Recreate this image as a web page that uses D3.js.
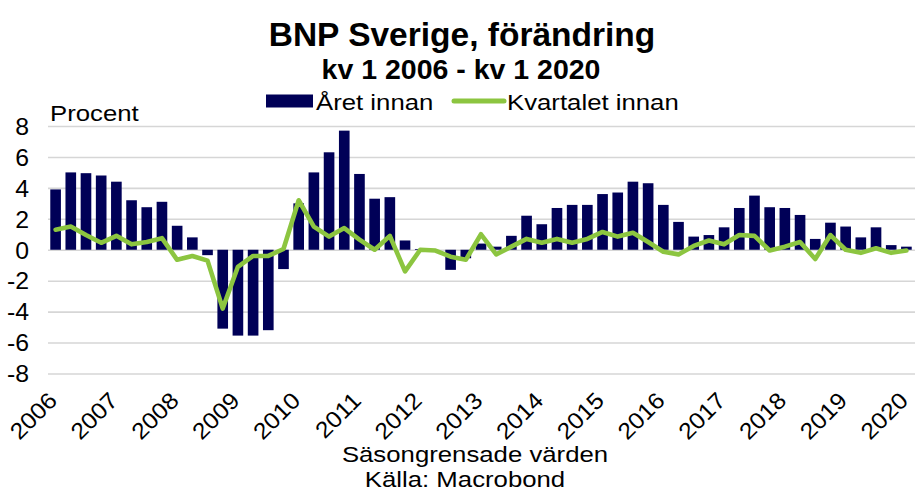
<!DOCTYPE html>
<html>
<head>
<meta charset="utf-8">
<script src="https://cdn.jsdelivr.net/npm/d3@7"></script>
<style>
  html, body { margin: 0; padding: 0; background: #ffffff; }
  svg { display: block; font-family: "Liberation Sans", Arial, Helvetica, sans-serif; }
</style>
</head>
<body>
<svg id="chart" width="915" height="493"></svg>
<script>
// ---- Data ----
const quarters = [
  "2006 Q1","2006 Q2","2006 Q3","2006 Q4",
  "2007 Q1","2007 Q2","2007 Q3","2007 Q4",
  "2008 Q1","2008 Q2","2008 Q3","2008 Q4",
  "2009 Q1","2009 Q2","2009 Q3","2009 Q4",
  "2010 Q1","2010 Q2","2010 Q3","2010 Q4",
  "2011 Q1","2011 Q2","2011 Q3","2011 Q4",
  "2012 Q1","2012 Q2","2012 Q3","2012 Q4",
  "2013 Q1","2013 Q2","2013 Q3","2013 Q4",
  "2014 Q1","2014 Q2","2014 Q3","2014 Q4",
  "2015 Q1","2015 Q2","2015 Q3","2015 Q4",
  "2016 Q1","2016 Q2","2016 Q3","2016 Q4",
  "2017 Q1","2017 Q2","2017 Q3","2017 Q4",
  "2018 Q1","2018 Q2","2018 Q3","2018 Q4",
  "2019 Q1","2019 Q2","2019 Q3","2019 Q4",
  "2020 Q1"
];
// Förändring mot året innan (staplar)
const aretInnan = [
  3.9, 5.0, 4.95, 4.8,
  4.4, 3.2, 2.75, 3.1,
  1.55, 0.8, -0.35, -5.1,
  -5.55, -5.55, -5.2, -1.25,
  3.0, 5.0, 6.3, 7.7,
  4.9, 3.3, 3.4, 0.6,
  0.05, 0.0, -1.3, -0.55,
  0.4, 0.2, 0.9, 2.2,
  1.65, 2.7, 2.9, 2.9,
  3.6, 3.7, 4.4, 4.3,
  2.9, 1.8, 0.85, 0.95,
  1.45, 2.7, 3.5, 2.75,
  2.7, 2.25, 0.7, 1.75,
  1.5, 0.8, 1.45, 0.3,
  0.2
];
// Förändring mot kvartalet innan (linje)
const kvartaletInnan = [
  1.3, 1.5, 0.95, 0.45,
  0.9, 0.35, 0.5, 0.75,
  -0.65, -0.4, -0.7, -3.8,
  -1.1, -0.4, -0.4, 0.05,
  3.2, 1.5, 0.85, 1.4,
  0.65, 0.0, 0.9, -1.4,
  0.0, -0.05, -0.45, -0.65,
  1.0, -0.3, 0.2, 0.7,
  0.45, 0.7, 0.45, 0.7,
  1.15, 0.85, 1.1, 0.5,
  -0.13, -0.3, 0.25, 0.6,
  0.35, 0.95, 0.9, -0.05,
  0.2, 0.5, -0.6, 0.95,
  0.0, -0.2, 0.1, -0.2,
  -0.05
];
const yTicks = [-8, -6, -4, -2, 0, 2, 4, 6, 8];
const yearTicks = ["2006 Q1","2007 Q1","2008 Q1","2009 Q1","2010 Q1","2011 Q1","2012 Q1",
                   "2013 Q1","2014 Q1","2015 Q1","2016 Q1","2017 Q1","2018 Q1","2019 Q1","2020 Q1"];
const seriesNames = ["Året innan", "Kvartalet innan"];
const titleText = "BNP Sverige, förändring";
const subtitleText = "kv 1 2006 - kv 1 2020";
const yLabelText = "Procent";
const noteText = "Säsongrensade värden";
const sourceText = "Källa: Macrobond";

(function draw() {
  const svg = d3.select("#chart");
  const pLeft = 48, pRight = 914, pTop = 126, pBottom = 373.5;
  const barColor = "#000057";
  const lineColor = "#8cc540";
  const gridColor = "#d6d6d6";
  const sx = 1.12; // horizontal stretch of regular text

  const x = d3.scaleBand().domain(quarters).range([pLeft, pRight]).paddingInner(0.3).paddingOuter(0.15);
  const y = d3.scaleLinear().domain([-8, 8]).range([pBottom, pTop]);

  // Gridlines + y tick labels
  const yAxis = svg.append("g")
    .attr("transform", `translate(${pLeft},0)`)
    .call(d3.axisLeft(y).tickValues(yTicks).tickSize(-(915 - pLeft)).tickPadding(19).tickFormat(d => String(d)));
  yAxis.select(".domain").remove();
  yAxis.selectAll(".tick line").attr("stroke", gridColor).attr("stroke-width", 1.6);
  yAxis.selectAll(".tick text")
    .attr("font-size", 23).attr("fill", "#000")
    .attr("font-family", "Liberation Sans, Arial, sans-serif")
    .attr("dy", "0.36em")
    .attr("transform", "translate(-19,0) scale(1.08,1)")
    .attr("x", 0);

  // Bars
  svg.append("g").selectAll("rect")
    .data(quarters)
    .join("rect")
    .attr("x", d => x(d))
    .attr("width", x.bandwidth())
    .attr("y", (d, i) => y(Math.max(0, aretInnan[i])))
    .attr("height", (d, i) => Math.abs(y(aretInnan[i]) - y(0)))
    .attr("fill", barColor);

  // Line
  const line = d3.line()
    .x((d, i) => x(quarters[i]) + x.bandwidth() / 2)
    .y(d => y(d));
  svg.append("path")
    .datum(kvartaletInnan)
    .attr("d", line)
    .attr("fill", "none")
    .attr("stroke", lineColor)
    .attr("stroke-width", 4.6)
    .attr("stroke-linejoin", "round")
    .attr("stroke-linecap", "round");

  // X axis (year labels)
  const xAxis = svg.append("g")
    .attr("transform", "translate(0,402)")
    .call(d3.axisBottom(x).tickValues(yearTicks).tickSize(0).tickFormat(d => d.slice(0, 4)));
  xAxis.select(".domain").remove();
  xAxis.selectAll(".tick text")
    .attr("font-size", 23).attr("fill", "#000")
    .attr("font-family", "Liberation Sans, Arial, sans-serif")
    .attr("text-anchor", "end")
    .attr("x", 0).attr("y", 0).attr("dy", 0)
    .attr("transform", "translate(3,0) rotate(-45) scale(1.08,1)");

  // Titles
  svg.append("text").attr("x", 462).attr("y", 46).attr("text-anchor", "middle")
    .attr("font-size", 33.5).attr("font-weight", "bold").text(titleText);
  svg.append("text").attr("x", 461).attr("y", 78.5).attr("text-anchor", "middle")
    .attr("font-size", 28.5).attr("font-weight", "bold").text(subtitleText);

  // Legend
  svg.append("rect").attr("x", 266).attr("y", 94.5).attr("width", 47).attr("height", 13).attr("fill", barColor);
  svg.append("text").attr("transform", `translate(316,110) scale(${sx},1)`)
    .attr("font-size", 23).text(seriesNames[0]);
  svg.append("line").attr("x1", 454).attr("x2", 504).attr("y1", 101).attr("y2", 101)
    .attr("stroke", lineColor).attr("stroke-width", 5).attr("stroke-linecap", "round");
  svg.append("text").attr("transform", `translate(507,110) scale(${sx},1)`)
    .attr("font-size", 23).text(seriesNames[1]);

  // Y label
  svg.append("text").attr("transform", `translate(50,120.5) scale(${sx},1)`)
    .attr("font-size", 23).text(yLabelText);

  // Bottom notes
  svg.append("text").attr("transform", `translate(475,462) scale(${sx},1)`)
    .attr("text-anchor", "middle").attr("font-size", 23).text(noteText);
  svg.append("text").attr("transform", `translate(465,487) scale(${sx},1)`)
    .attr("text-anchor", "middle").attr("font-size", 23).text(sourceText);
})();
</script>
</body>
</html>
